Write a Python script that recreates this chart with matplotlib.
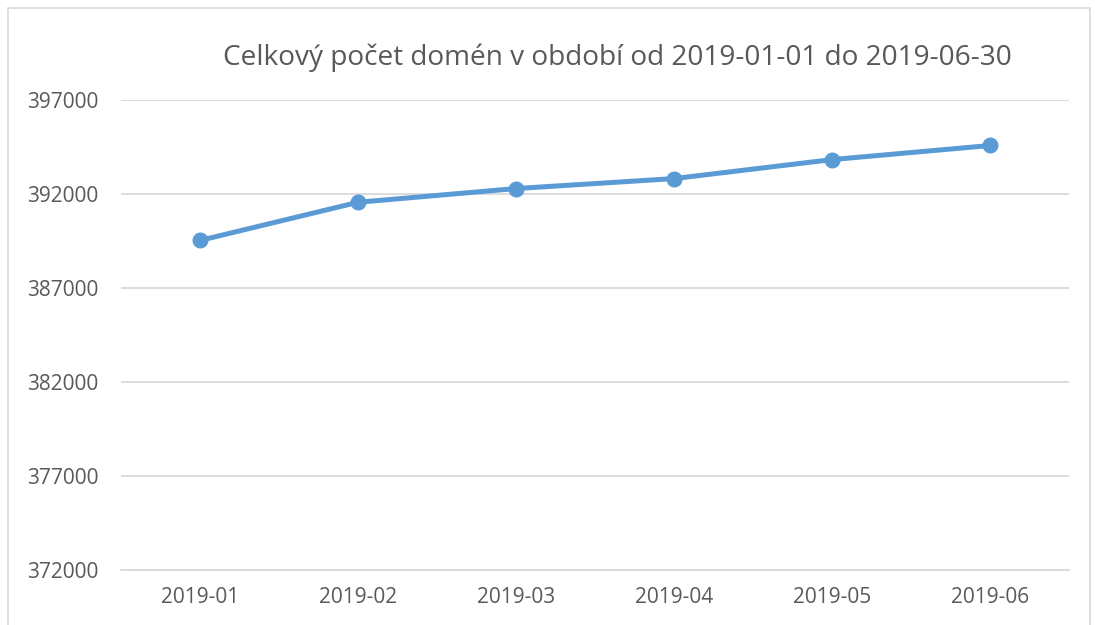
import matplotlib
matplotlib.use("Agg")
import matplotlib.pyplot as plt
from matplotlib.patches import Rectangle

months = ["2019-01", "2019-02", "2019-03", "2019-04", "2019-05", "2019-06"]
domains = [389530, 391560, 392290, 392820, 393830, 394580]
yticks = [372000, 377000, 382000, 387000, 392000, 397000]
title = "Celkový počet domén v období od 2019-01-01 do 2019-06-30"

plt.rcParams['font.family'] = ['Open Sans', 'DejaVu Sans']

fig = plt.figure(figsize=(10.95, 6.25), dpi=100)
ax = fig.add_axes([121/1095, 1-570/625, (1069-121)/1095, 470/625])

x = list(range(len(months)))
ax.plot(x, domains, color="#5B9BD5", linewidth=3.6, marker="o", markersize=10.5,
        solid_capstyle="round", zorder=3)

ax.set_xlim(-0.5, len(months) - 0.5)
ax.set_ylim(yticks[0], yticks[-1])
ax.set_yticks(yticks)
ax.set_yticklabels([str(v) for v in yticks])
ax.set_xticks(x)
ax.set_xticklabels(months)
ax.grid(axis="y", color="#D9D9D9", linewidth=1.3)
ax.set_axisbelow(True)
for s in ["top", "right", "left"]:
    ax.spines[s].set_visible(False)
ax.spines["bottom"].set_color("#D9D9D9")
ax.spines["bottom"].set_linewidth(1.3)
ax.tick_params(axis="both", length=0, labelcolor="#595959", labelsize=15)
ax.tick_params(axis="y", pad=16)
ax.tick_params(axis="x", pad=12)

fig.text(617/1095, 1-58/625, title, ha="center", va="center", fontsize=20.2, color="#595959")

fig.patches.append(Rectangle((8/1095, -0.02), (1090-8)/1095, 1-8/625+0.02,
                             transform=fig.transFigure, fill=False,
                             edgecolor="#D9D9D9", linewidth=1.2))

fig.savefig("out.png", dpi=100)
